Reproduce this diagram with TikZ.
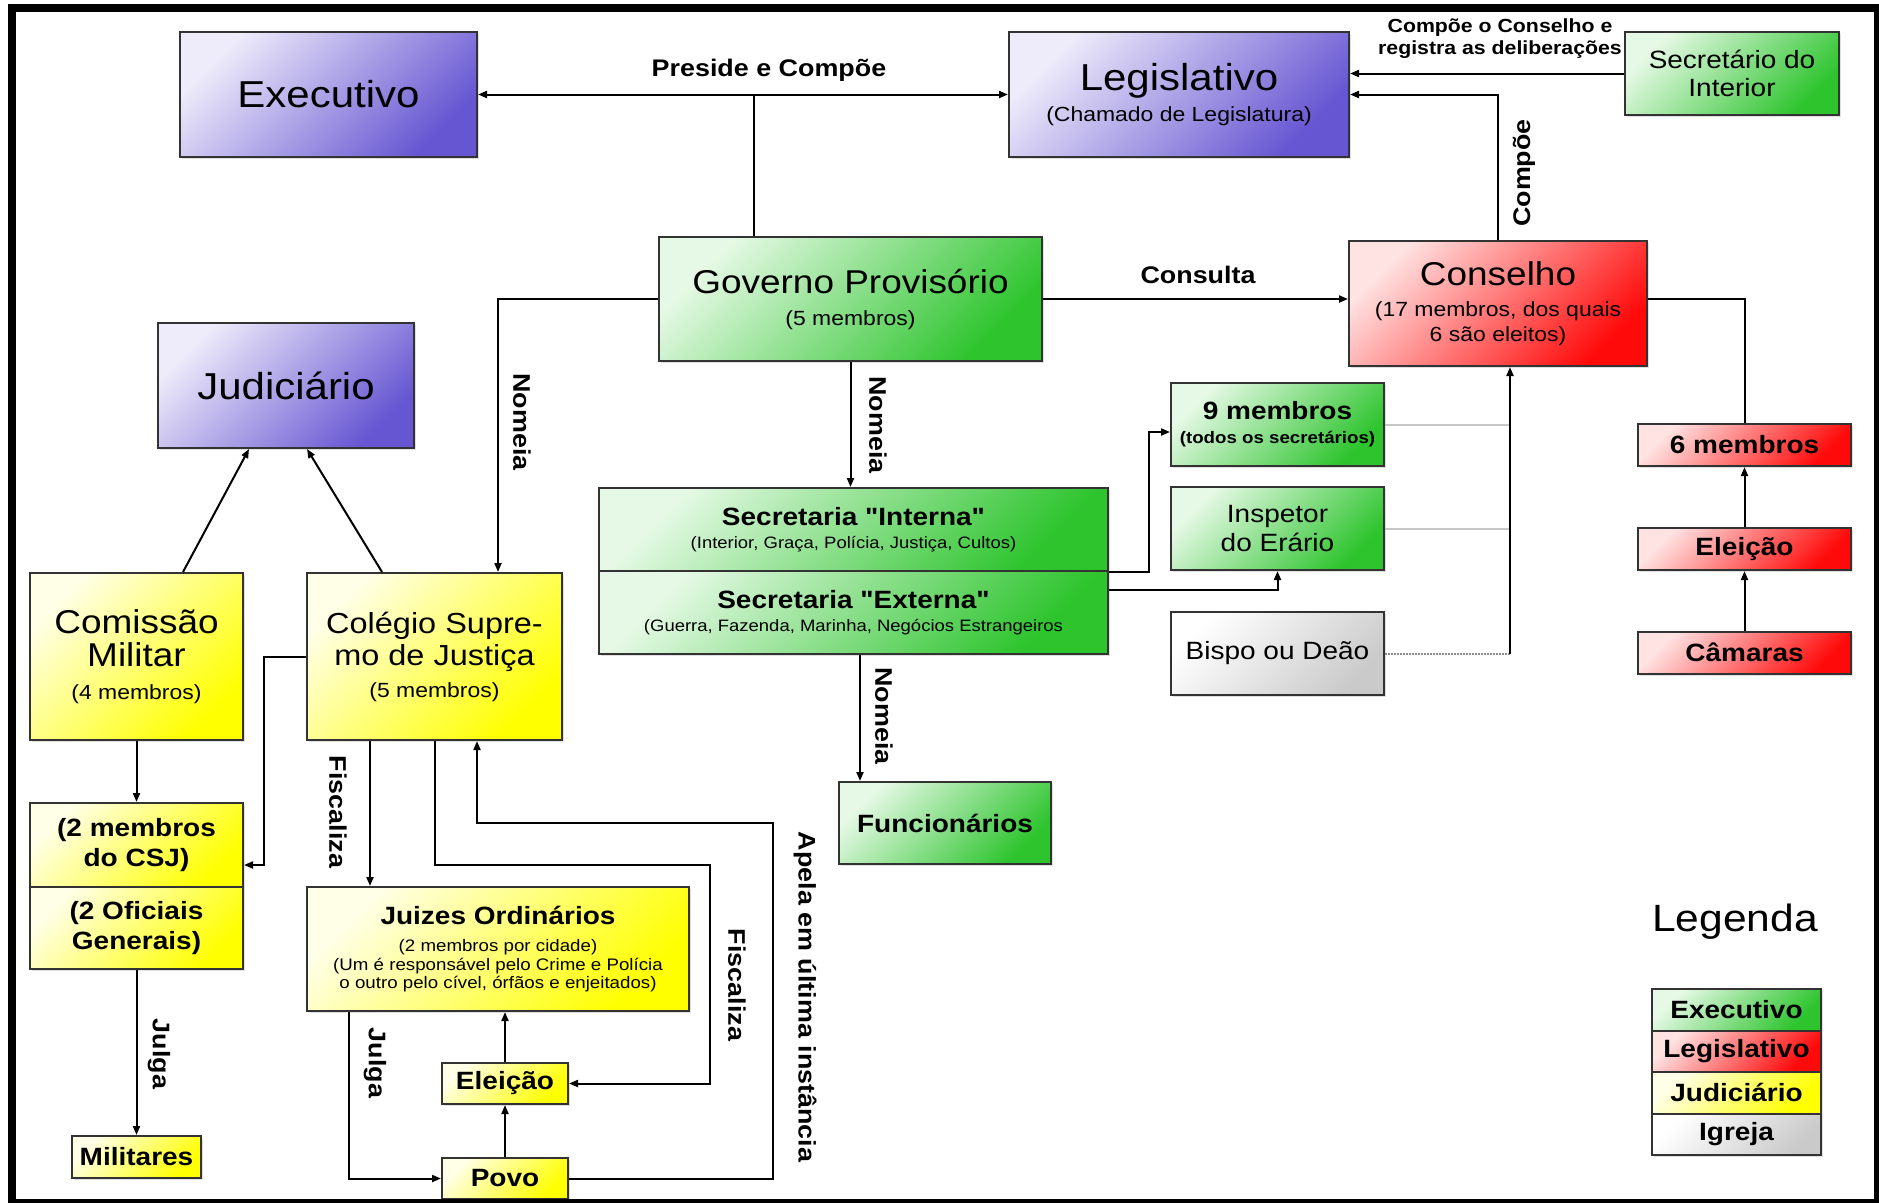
\documentclass[tikz,border=0pt]{standalone}
\usepackage{fontspec}
\setmainfont{Liberation Sans}[FakeStretch=1.12, Ligatures=TeXOff]
\usetikzlibrary{arrows.meta,shadows}
\newcommand\fsz[2]{\fontsize{#1}{#2}\selectfont}
\definecolor{roxoA}{HTML}{EEEBFA}
\definecolor{roxoB}{HTML}{6656D2}
\definecolor{verdeA}{HTML}{E6F9E6}
\definecolor{verdeB}{HTML}{2DC42D}
\definecolor{vermA}{HTML}{FFE2E2}
\definecolor{vermB}{HTML}{FF0A0A}
\definecolor{amarA}{HTML}{FFFFE8}
\definecolor{amarB}{HTML}{FFFF00}
\definecolor{cinzaA}{HTML}{FFFFFF}
\definecolor{cinzaB}{HTML}{CACACA}
\tikzset{
  caixa/.style={draw=black!80, line width=2pt, inner sep=0pt, align=center,
    drop shadow={shadow xshift=2pt, shadow yshift=-2pt, opacity=0.25}},
  roxo/.style={caixa, top color=roxoA, bottom color=roxoB, shading angle=45},
  verde/.style={caixa, top color=verdeA, bottom color=verdeB, shading angle=45},
  vermelho/.style={caixa, top color=vermA, bottom color=vermB, shading angle=45},
  amarelo/.style={caixa, top color=amarA, bottom color=amarB, shading angle=45},
  cinza/.style={caixa, top color=cinzaA, bottom color=cinzaB, shading angle=45},
  rotulo/.style={font=\bfseries\fsz{24}{26}, inner sep=0pt},
  seta/.style={-{Triangle[length=9pt,width=7pt]}},
  cinzal/.style={draw=black!22, line width=2pt},
}
\begin{document}
\begin{tikzpicture}[x=1pt,y=-1pt,line width=2pt]
\useasboundingbox (0,0) rectangle (1879,1202);
\fill [white] (0,0) rectangle (1879,1202);
% os tres poderes
\node [roxo, minimum width=297pt, minimum height=125pt, font=\fsz{37.5}{40}] (exe) at (328.5,94.5) {Executivo};
\node [roxo, minimum width=340pt, minimum height=125pt, font=\fsz{20.5}{31}] (leg) at (1179,94.5) {{\fsz{37.5}{40}Legislativo}\\(Chamado de Legislatura)};
\node [roxo, minimum width=256pt, minimum height=125pt, font=\fsz{37.5}{40}] (jud) at (286,385.5) {Judiciário};
\node [verde, minimum width=214pt, minimum height=83pt, font=\fsz{25}{28}] (secint) at (1732,73.5) {Secretário do\\Interior};
% governo e conselho
\node [verde, minimum width=383pt, minimum height=124pt, font=\fsz{20.5}{32}] (gp) at (850.5,299) {{\fsz{33}{36}Governo Provisório}\\(5 membros)};
\node [vermelho, minimum width=298pt, minimum height=125pt, font=\fsz{20.5}{25}] (cons) at (1498,303.5) {{\fsz{33}{36}Conselho}\\[6pt](17 membros, dos quais\\6 são eleitos)};
\node [verde, minimum width=213pt, minimum height=83pt, font=\bfseries\fsz{16.7}{24}] (nove) at (1277.5,424.5) {{\fsz{25}{28}9 membros}\\(todos os secretários)};
\node [verde, minimum width=213pt, minimum height=83pt, font=\fsz{25}{29}] (insp) at (1277.5,528.5) {Inspetor\\do Erário};
\node [cinza, minimum width=213pt, minimum height=83pt, font=\fsz{25}{29}] (bispo) at (1277.5,653.5) {Bispo ou Deão};
\node [verde, minimum width=509pt, minimum height=83pt, font=\fsz{16.5}{23}] (sint) at (853.5,529.5) {{\bfseries\fsz{25}{28}Secretaria "Interna"}\\(Interior, Graça, Polícia, Justiça, Cultos)};
\node [verde, minimum width=509pt, minimum height=83pt, font=\fsz{16.5}{23}] (sext) at (853.5,612.5) {{\bfseries\fsz{25}{28}Secretaria "Externa"}\\(Guerra, Fazenda, Marinha, Negócios Estrangeiros};
\node [verde, minimum width=212pt, minimum height=82pt, font=\bfseries\fsz{25}{28}] (func) at (945,823) {Funcionários};
% camaras
\node [vermelho, minimum width=213pt, minimum height=42pt, font=\bfseries\fsz{25}{28}] (seis) at (1744.5,445) {6 membros};
\node [vermelho, minimum width=213pt, minimum height=42pt, font=\bfseries\fsz{25}{28}] (eleR) at (1744.5,549) {Eleição};
\node [vermelho, minimum width=213pt, minimum height=42pt, font=\bfseries\fsz{25}{28}] (cam) at (1744.5,652.5) {Câmaras};
% judiciario
\node [amarelo, minimum width=213pt, minimum height=167pt, font=\fsz{20.5}{33}] (com) at (136.5,656.5) {{\fsz{33}{35}Comissão}\\{\fsz{33}{35}Militar}\\(4 membros)};
\node [amarelo, minimum width=255pt, minimum height=167pt, font=\fsz{20.5}{32}] (csj) at (434.5,656.5) {{\fsz{29}{33}Colégio Supre-}\\{\fsz{29}{33}mo de Justiça}\\(5 membros)};
\node [amarelo, minimum width=213pt, minimum height=84pt, font=\bfseries\fsz{25}{30}] (dois) at (136.5,845) {(2 membros\\do CSJ)};
\node [amarelo, minimum width=213pt, minimum height=82pt, font=\bfseries\fsz{25}{30}] (ofic) at (136.5,928) {(2 Oficiais\\Generais)};
\node [amarelo, minimum width=129pt, minimum height=42pt, font=\bfseries\fsz{25}{28}] (mil) at (136.5,1157) {Militares};
\node [amarelo, minimum width=382pt, minimum height=124pt, font=\fsz{16.7}{18.5}] (juiz) at (498,949) {{\bfseries\fsz{25}{28}Juizes Ordinários}\\[9pt](2 membros por cidade)\\(Um é responsável pelo Crime e Polícia\\o outro pelo cível, órfãos e enjeitados)};
\node [amarelo, minimum width=126pt, minimum height=41pt, font=\bfseries\fsz{25}{28}] (eleY) at (505,1083.5) {Eleição};
\node [amarelo, minimum width=126pt, minimum height=41pt, font=\bfseries\fsz{25}{28}] (povo) at (505,1178.5) {Povo};
% legenda
\node [inner sep=0pt, font=\fsz{38}{40}] (legenda) at (1735,922) {Legenda};
\node [verde, minimum width=169pt, minimum height=41.5pt, font=\bfseries\fsz{25}{28}] (lgE) at (1736.5,1009.75) {Executivo};
\node [vermelho, minimum width=169pt, minimum height=41.5pt, font=\bfseries\fsz{25}{28}] (lgL) at (1736.5,1051.25) {Legislativo};
\node [amarelo, minimum width=169pt, minimum height=41.5pt, font=\bfseries\fsz{25}{28}] (lgJ) at (1736.5,1092.75) {Judiciário};
\node [cinza, minimum width=169pt, minimum height=41.5pt, font=\bfseries\fsz{25}{28}] (lgI) at (1736.5,1134.25) {Igreja};
% rotulos
\node [rotulo] (tPreside) at (769,70) {Preside e Compõe};
\node [rotulo, font=\bfseries\fsz{19}{22}, align=center] (tSecInt) at (1500,39) {Compõe o Conselho e\\registra as deliberações};
\node [rotulo, rotate=90] (tCompoe) at (1524,173) {Compõe};
\node [rotulo] (tConsulta) at (1198,275) {Consulta};
\node [rotulo, rotate=-90] (tNomA) at (522,422) {Nomeia};
\node [rotulo, rotate=-90] (tNomB) at (878,425) {Nomeia};
\node [rotulo, rotate=-90] (tNomC) at (884,716) {Nomeia};
\node [rotulo, rotate=-90] (tFiscA) at (338,812) {Fiscaliza};
\node [rotulo, rotate=-90] (tFiscB) at (737,985) {Fiscaliza};
\node [rotulo, rotate=-90] (tJulgA) at (159,1054) {Julga};
\node [rotulo, rotate=-90] (tJulgB) at (375,1063) {Julga};
\node [rotulo, rotate=-90] (tApela) at (805,997) {Apela em última instância};
% ligacoes de cima
\coordinate (pc) at ([xshift=-96.5pt]gp.north);
\draw [{Triangle[length=9pt,width=7pt]}-{Triangle[length=9pt,width=7pt]}] (exe.east) -- (leg.west);
\draw (pc) -- (pc |- exe.east);
\draw [seta] (secint.west) -- (secint.west -| leg.east);
\draw [seta] (cons.north) |- (leg.east);
\draw [seta] (gp.east) -- (gp.east -| cons.west);
\draw ([yshift=4.5pt]cons.east) -| (seis.north);
\draw [seta] (cam) -- (eleR);
\draw [seta] (eleR) -- (seis);
% secretarias
\draw [seta] (gp.south) -- (gp.south |- sint.north);
\coordinate (nm) at ([xshift=6.5pt]sext.south);
\draw [seta] (nm) -- (nm |- func.north);
\draw [seta] (sint.south east) -- ++(40,0) |- ([yshift=-7.5pt]nove.west);
\draw [seta] ([yshift=22.5pt]sext.east) -| (insp.south);
\coordinate (cb) at (1510,653.5);
\draw [cinzal] (nove.east) -- (nove.east -| cb);
\draw [cinzal] (insp.east) -- (insp.east -| cb);
\draw [cinzal, draw=black!45, densely dotted] (bispo.east) -- (cb);
\draw [seta] (cb) -- (cb |- cons.south);
% judiciario
\draw [seta] (gp.west) -| ([xshift=63.5pt]csj.north);
\draw [seta] ([xshift=46.5pt]com.north) -- ([xshift=-37pt]jud.south);
\draw [seta] ([xshift=-52.5pt]csj.north) -- ([xshift=21pt]jud.south);
\draw [seta] (com) -- (dois);
\draw [seta] (ofic) -- (mil);
\coordinate (cl) at (264,865);
\draw [seta] (csj.west) -| (cl) -- (cl -| dois.east);
\coordinate (fb) at ([xshift=-64.5pt]csj.south);
\draw [seta] (fb) -- (fb |- juiz.north);
\coordinate (fa) at (710,865);
\draw [seta] (csj.south) |- (fa) |- (eleY.east);
\coordinate (ap) at (773,823);
\draw [seta] (povo.east) -| (ap) -| ([xshift=42.5pt]csj.south);
\draw [seta] ([xshift=-149pt]juiz.south) |- (povo.west);
\draw [seta] (povo) -- (eleY);
\draw [seta] (eleY.north) -- (eleY.north |- juiz.south);
% moldura
\draw [line width=8pt] (12,8) rectangle (1878,1203);
\end{tikzpicture}
\end{document}
